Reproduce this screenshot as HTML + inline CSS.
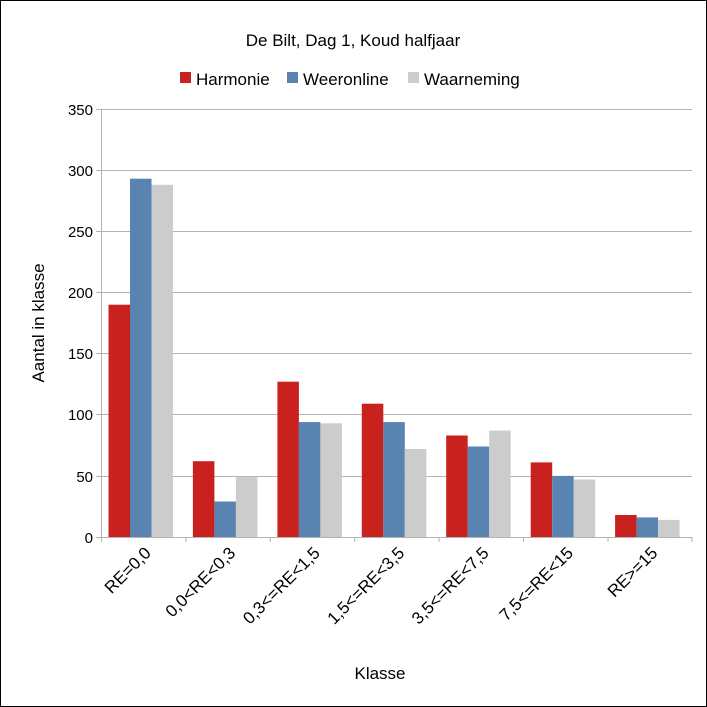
<!DOCTYPE html>
<html><head><style>body{margin:0;background:#fff}svg{display:block}</style></head><body>
<svg width="707" height="707" xmlns="http://www.w3.org/2000/svg" font-family="Liberation Sans, sans-serif">
<rect x="0.5" y="0.5" width="706" height="706" fill="#fff" stroke="#000"/>
<text x="353" y="46" font-size="17" text-anchor="middle">De Bilt, Dag 1, Koud halfjaar</text>
<rect x="180" y="72" width="11" height="11" fill="#c9211e"/><text x="196" y="85" font-size="17">Harmonie</text>
<rect x="287" y="72" width="11" height="11" fill="#5983b0"/><text x="303" y="85" font-size="17">Weeronline</text>
<rect x="408" y="72" width="11" height="11" fill="#cccccc"/><text x="424" y="85" font-size="17">Waarneming</text>
<g stroke="#b3b3b3" stroke-width="1">
<line x1="96" x2="692" y1="109.5" y2="109.5"/><line x1="96" x2="692" y1="170.5" y2="170.5"/><line x1="96" x2="692" y1="231.5" y2="231.5"/><line x1="96" x2="692" y1="292.5" y2="292.5"/><line x1="96" x2="692" y1="353.5" y2="353.5"/><line x1="96" x2="692" y1="414.5" y2="414.5"/><line x1="96" x2="692" y1="476.5" y2="476.5"/>
<line x1="101.5" x2="101.5" y1="109" y2="537"/>
<line x1="96" x2="692" y1="537.5" y2="537.5"/>
<line x1="185.9" x2="185.9" y1="537" y2="542"/><line x1="270.3" x2="270.3" y1="537" y2="542"/><line x1="354.7" x2="354.7" y1="537" y2="542"/><line x1="439.1" x2="439.1" y1="537" y2="542"/><line x1="523.6" x2="523.6" y1="537" y2="542"/><line x1="608" x2="608" y1="537" y2="542"/><line x1="692" x2="692" y1="537" y2="542"/><line x1="101.5" x2="101.5" y1="537" y2="542"/>
</g>
<g font-size="15" text-anchor="end">
<text x="93" y="115">350</text><text x="93" y="176">300</text><text x="93" y="237">250</text><text x="93" y="298">200</text><text x="93" y="359">150</text><text x="93" y="420">100</text><text x="93" y="482">50</text><text x="93" y="543">0</text>
</g>
<g>
<rect x="108.5" y="304.7" width="21.5" height="232.3" fill="#c9211e"/><rect x="130" y="178.7" width="21.5" height="358.3" fill="#5983b0"/><rect x="151.5" y="184.8" width="21.5" height="352.2" fill="#cccccc"/>
<rect x="192.9" y="461.2" width="21.5" height="75.8" fill="#c9211e"/><rect x="214.4" y="501.5" width="21.5" height="35.5" fill="#5983b0"/><rect x="235.9" y="477.1" width="21.5" height="59.9" fill="#cccccc"/>
<rect x="277.4" y="381.7" width="21.5" height="155.3" fill="#c9211e"/><rect x="298.9" y="422.1" width="21.5" height="114.9" fill="#5983b0"/><rect x="320.4" y="423.3" width="21.5" height="113.7" fill="#cccccc"/>
<rect x="361.8" y="403.7" width="21.5" height="133.3" fill="#c9211e"/><rect x="383.3" y="422.1" width="21.5" height="114.9" fill="#5983b0"/><rect x="404.8" y="449" width="21.5" height="88" fill="#cccccc"/>
<rect x="446.2" y="435.5" width="21.5" height="101.5" fill="#c9211e"/><rect x="467.7" y="446.5" width="21.5" height="90.5" fill="#5983b0"/><rect x="489.2" y="430.6" width="21.5" height="106.4" fill="#cccccc"/>
<rect x="530.7" y="462.4" width="21.5" height="74.6" fill="#c9211e"/><rect x="552.2" y="475.9" width="21.5" height="61.1" fill="#5983b0"/><rect x="573.7" y="479.5" width="21.5" height="57.5" fill="#cccccc"/>
<rect x="615.1" y="515" width="21.5" height="22" fill="#c9211e"/><rect x="636.6" y="517.4" width="21.5" height="19.6" fill="#5983b0"/><rect x="658.1" y="519.9" width="21.5" height="17.1" fill="#cccccc"/>
</g>
<g font-size="17" text-anchor="end">
<text x="152" y="554" transform="rotate(-45 152 554)">RE=0,0</text>
<text x="236.5" y="554" transform="rotate(-45 236.5 554)">0,0&lt;RE&lt;0,3</text>
<text x="321" y="554" transform="rotate(-45 321 554)">0,3&lt;=RE&lt;1,5</text>
<text x="405.4" y="554" transform="rotate(-45 405.4 554)">1,5&lt;=RE&lt;3,5</text>
<text x="489.8" y="554" transform="rotate(-45 489.8 554)">3,5&lt;=RE&lt;7,5</text>
<text x="574.2" y="554" transform="rotate(-45 574.2 554)">7,5&lt;=RE&lt;15</text>
<text x="658.6" y="554" transform="rotate(-45 658.6 554)">RE&gt;=15</text>
</g>
<text x="44" y="323" font-size="17" text-anchor="middle" transform="rotate(-90 44 323)">Aantal in klasse</text>
<text x="380" y="679" font-size="17" text-anchor="middle">Klasse</text>
</svg>
</body></html>
